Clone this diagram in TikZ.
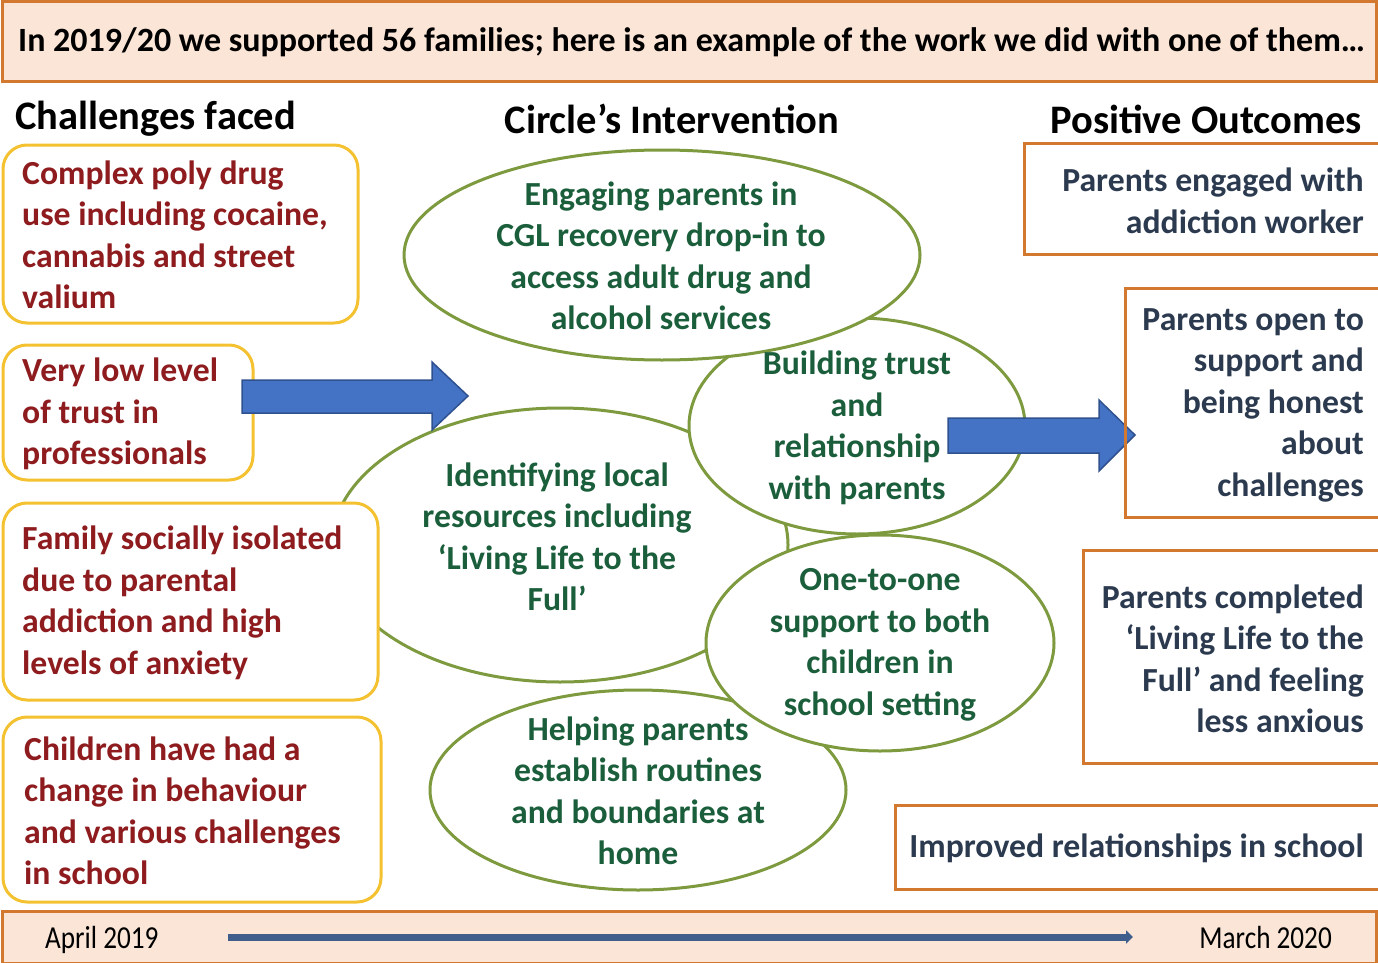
\documentclass[tikz,border=0pt]{standalone}
\usepackage{fontspec}
\setmainfont{Carlito}
\usetikzlibrary{arrows.meta,shapes.geometric}
\definecolor{peach}{HTML}{FBE5D6}
\definecolor{orng}{HTML}{D2782F}
\definecolor{yel}{HTML}{F4C130}
\definecolor{redtxt}{HTML}{8E1B1E}
\definecolor{grntxt}{HTML}{1B5E3B}
\definecolor{ellc}{HTML}{7E9A3F}
\definecolor{blutxt}{HTML}{2C3A4F}
\definecolor{arrblue}{HTML}{4472C4}
\definecolor{arredge}{HTML}{2F528F}
\definecolor{tlblue}{HTML}{3F5E8C}
\tikzset{
  banner/.style={draw=orng, line width=3pt, fill=peach},
  chal/.style={draw=yel, line width=3pt, fill=white, rounded corners=24pt},
  outc/.style={draw=orng, line width=3pt},
  ell/.style={draw=ellc, line width=3pt, fill=white, ellipse, inner sep=0pt},
  blockarrow/.style={fill=arrblue, draw=arredge, line width=1.5pt},
  body/.style={font=\fontsize{33.7}{41.5}\selectfont\bfseries, inner sep=0pt},
  ctxt/.style={body, text=redtxt, align=left, anchor=west},
  etxt/.style={body, text=grntxt, align=center},
  otxt/.style={body, text=blutxt, align=right, anchor=east},
  head/.style={font=\fontsize{40.5}{46}\selectfont\bfseries, inner sep=0pt},
  datetxt/.style={inner sep=0pt, font=\fontsize{32}{36}\selectfont},
}
\begin{document}
\begin{tikzpicture}[x=1pt,y=-1pt]
\useasboundingbox (0,0) rectangle (1378,963);
% top banner
\path[banner] (2,2) rectangle (1376,82);
\node[inner sep=0pt, anchor=west, font=\fontsize{34}{40}\selectfont\bfseries] (title) at (18,42)
  {In 2019/20 we supported 56 families; here is an example of the work we did with one of them…};
% headings
\node[head, anchor=west] (h1) at (15,119) {Challenges faced};
\node[head] (h2) at (672,119) {Circle’s Intervention};
\node[head, anchor=east] (h3) at (1362,119) {Positive Outcomes};
% ellipses (back to front)
\node[ell, minimum width=456, minimum height=274] (e2) at (560,545) {};
\node[ell, minimum width=416, minimum height=200] (e5) at (638,790) {};
\node[ell, minimum width=336, minimum height=216] (e3) at (857,426) {};
\node[ell, minimum width=348, minimum height=216] (e4) at (880,643) {};
\node[ell, minimum width=516, minimum height=210] (e1) at (662,255) {};
% ellipse texts
\node[etxt] (t1) at (661,256) {Engaging parents in\\CGL recovery drop-in to\\access adult drug and\\alcohol services};
\node[etxt] (t2) at (557,537) {Identifying local\\resources including\\‘Living Life to the\\Full’};
\node[etxt] (t3) at (857,428) {Building trust\\and\\relationship\\with parents};
\node[etxt] (t4) at (880,645) {One-to-one\\support to both\\children in\\school setting};
\node[etxt] (t5) at (638,791) {Helping parents\\establish routines\\and boundaries at\\home};
% challenge boxes
\path[chal] (3,145) rectangle (358,323);
\node[ctxt] (c1) at (22,235) {Complex poly drug\\use including cocaine,\\cannabis and street\\valium};
\path[chal] (3,345) rectangle (253,480);
\node[ctxt] (c2) at (22,414) {Very low level\\of trust in\\professionals};
\path[chal] (3,503) rectangle (378,700);
\node[ctxt] (c3) at (22,603) {Family socially isolated\\due to parental\\addiction and high\\levels of anxiety};
\path[chal] (3,717) rectangle (381,902);
\node[ctxt] (c4) at (24,811) {Children have had a\\change in behaviour\\and various challenges\\in school};
% block arrows
\filldraw[blockarrow] (242,380) -- (432,380) -- (432,362) -- (468,396) -- (432,430) -- (432,413) -- (242,413) -- cycle;
\filldraw[blockarrow] (948,418) -- (1099,418) -- (1099,400) -- (1135,435) -- (1099,471) -- (1099,453) -- (948,453) -- cycle;
% outcome boxes
\path[outc] (1024,143) rectangle (1380,254);
\node[otxt] (o1) at (1364,201) {Parents engaged with\\addiction worker};
\path[outc] (1125,288) rectangle (1380,517);
\node[otxt] (o2) at (1364,405) {Parents open to\\support and\\being honest\\about\\challenges};
\path[outc] (1083,550) rectangle (1380,763);
\node[otxt] (o3) at (1364,659) {Parents completed\\‘Living Life to the\\Full’ and feeling\\less anxious};
\path[outc] (895,805) rectangle (1380,889);
\node[otxt] (o4) at (1364,848) {Improved relationships in school};
% bottom banner
\path[banner] (2,911) rectangle (1376,963);
\node[datetxt, anchor=base west] (apr) at (45,948) {\scalebox{0.85}[1]{April 2019}};
\node[datetxt, anchor=base east] (mar) at (1332,948) {\scalebox{0.85}[1]{March 2020}};
\coordinate (tl1) at (228,937);
\coordinate (tl2) at (1133,937);
\draw[tlblue, line width=7pt, -{Triangle[length=7pt,width=13pt]}] (tl1) -- (tl2);
\end{tikzpicture}
\end{document}
